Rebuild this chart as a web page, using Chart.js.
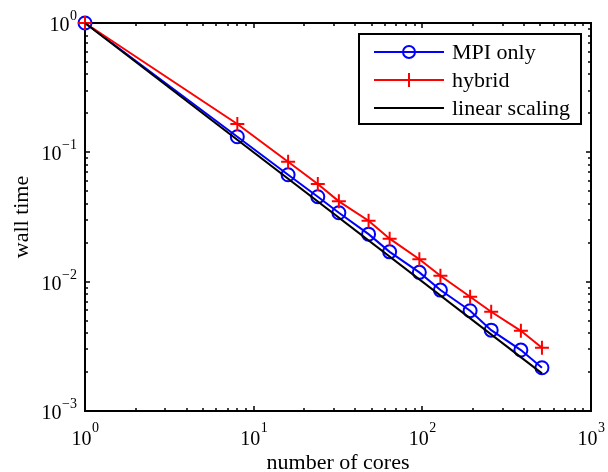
<!DOCTYPE html>
<html><head><meta charset="utf-8">
<script src="https://cdn.jsdelivr.net/npm/chart.js@4/dist/chart.umd.min.js"></script>
<style>html,body{margin:0;padding:0;background:#fff;}canvas{display:block;}</style>
</head><body>
<canvas id="c" width="608" height="472"></canvas>
<script>
const cores = [1, 8, 16, 24, 32, 48, 64, 96, 128, 192, 256, 384, 512];
const mpiOnly = [1, 0.132, 0.0671, 0.0454, 0.0341, 0.0233, 0.0170, 0.0118, 0.00861, 0.00596, 0.00422, 0.00296, 0.00216];
const hybrid = [1, 0.1656, 0.0846, 0.0569, 0.0418, 0.0296, 0.0215, 0.0149, 0.0111, 0.00764, 0.00585, 0.00417, 0.00308];
const linearCores = [1, 512];
const linearTime = [1, 0.001953];
const xTickValues = [1, 10, 100, 1000];
const xTickExponents = ['0', '1', '2', '3'];
const yTickValues = [0.001, 0.01, 0.1, 1];
const yTickExponents = ['\u22123', '\u22122', '\u22121', '0'];
const seriesNames = ['MPI only', 'hybrid', 'linear scaling'];
const xTitle = 'number of cores';
const yTitle = 'wall time';

const FONT = '"Liberation Serif", "Times New Roman", serif';
const pts = (xs, ys) => xs.map((x, i) => ({x: x, y: ys[i]}));

function minorValues(min, max) {
  const out = [];
  for (let d = min; d < max; d *= 10) {
    for (let k = 2; k <= 9; k++) out.push(d * k);
  }
  return out;
}

const deco = {
  id: 'deco',
  beforeDatasetsDraw(chart) {
    const ctx = chart.ctx, a = chart.chartArea;
    const xs = chart.scales.x, ys = chart.scales.y;
    ctx.save();
    ctx.strokeStyle = '#000';
    ctx.lineWidth = 2;
    ctx.strokeRect(a.left, a.top, a.right - a.left, a.bottom - a.top);
    ctx.lineWidth = 1.5;
    ctx.beginPath();
    const tick = (v, len, horiz) => {
      if (horiz) {
        const p = Math.round(xs.getPixelForValue(v));
        ctx.moveTo(p, a.bottom); ctx.lineTo(p, a.bottom - len);
        ctx.moveTo(p, a.top); ctx.lineTo(p, a.top + len);
      } else {
        const p = Math.round(ys.getPixelForValue(v));
        ctx.moveTo(a.left, p); ctx.lineTo(a.left + len, p);
        ctx.moveTo(a.right, p); ctx.lineTo(a.right - len, p);
      }
    };
    xTickValues.forEach(v => tick(v, 5, true));
    yTickValues.forEach(v => tick(v, 5, false));
    minorValues(xTickValues[0], xTickValues[xTickValues.length - 1]).forEach(v => tick(v, 3, true));
    minorValues(yTickValues[0], yTickValues[yTickValues.length - 1]).forEach(v => tick(v, 3, false));
    ctx.stroke();
    ctx.restore();
  },
  afterDraw(chart) {
    const ctx = chart.ctx, a = chart.chartArea;
    const xs = chart.scales.x, ys = chart.scales.y;
    ctx.save();
    ctx.fillStyle = '#000';
    ctx.textBaseline = 'alphabetic';
    const mainFont = '20px ' + FONT, expFont = '14px ' + FONT;
    // x tick labels
    xTickValues.forEach((v, i) => {
      const p = xs.getPixelForValue(v);
      ctx.font = mainFont; const w1 = ctx.measureText('10').width;
      ctx.font = expFont; const w2 = ctx.measureText(xTickExponents[i]).width;
      const x0 = p - (w1 + w2) / 2;
      ctx.font = mainFont; ctx.textAlign = 'left';
      ctx.fillText('10', x0, a.bottom + 33.5);
      ctx.font = expFont;
      ctx.fillText(xTickExponents[i], x0 + w1 + 0.5, a.bottom + 20.5);
    });
    // y tick labels
    yTickValues.forEach((v, i) => {
      const p = ys.getPixelForValue(v);
      ctx.font = expFont; const w2 = ctx.measureText(yTickExponents[i]).width;
      ctx.font = mainFont; const w1 = ctx.measureText('10').width;
      const xr = a.left - 8;
      ctx.textAlign = 'left';
      ctx.fillText('10', xr - w2 - w1 - 0.5, p + 8);
      ctx.font = expFont;
      ctx.fillText(yTickExponents[i], xr - w2, p - 3);
    });
    // axis titles
    ctx.font = '22px ' + FONT;
    ctx.textAlign = 'center';
    ctx.fillText(xTitle, (a.left + a.right) / 2, 468.5);
    ctx.save();
    ctx.translate(28, (a.top + a.bottom) / 2);
    ctx.rotate(-Math.PI / 2);
    ctx.fillText(yTitle, 0, 0);
    ctx.restore();
    // legend
    const lx = 359, ly = 34, lw = 222, lh = 90;
    ctx.fillStyle = '#fff';
    ctx.fillRect(lx, ly, lw, lh);
    ctx.strokeStyle = '#000';
    ctx.lineWidth = 2;
    ctx.strokeRect(lx, ly, lw, lh);
    const rows = [
      {name: seriesNames[0], color: '#0000ff', marker: 'circle'},
      {name: seriesNames[1], color: '#ff0000', marker: 'cross'},
      {name: seriesNames[2], color: '#000000', marker: null}
    ];
    rows.forEach((r, i) => {
      const y = ly + 18 + i * 28;
      ctx.strokeStyle = r.color;
      ctx.lineWidth = 2;
      ctx.beginPath(); ctx.moveTo(374, y); ctx.lineTo(444, y); ctx.stroke();
      if (r.marker === 'circle') {
        ctx.beginPath(); ctx.arc(409, y, 6, 0, Math.PI * 2); ctx.stroke();
      } else if (r.marker === 'cross') {
        ctx.beginPath();
        ctx.moveTo(409, y - 7); ctx.lineTo(409, y + 7);
        ctx.moveTo(402, y); ctx.lineTo(416, y);
        ctx.stroke();
      }
      ctx.fillStyle = '#000';
      ctx.font = '22px ' + FONT;
      ctx.textAlign = 'left';
      ctx.fillText(r.name, 452, y + 7);
    });
    ctx.restore();
  }
};

new Chart(document.getElementById('c'), {
  type: 'scatter',
  data: {
    datasets: [
      {label: seriesNames[2], data: pts(linearCores, linearTime), showLine: true,
       borderColor: '#000', borderWidth: 2, pointRadius: 0, order: 0, clip: false},
      {label: seriesNames[1], data: pts(cores, hybrid), showLine: true,
       borderColor: '#ff0000', borderWidth: 2, pointStyle: 'cross', pointRadius: 7,
       pointBorderColor: '#ff0000', pointBorderWidth: 2, order: 1, clip: false},
      {label: seriesNames[0], data: pts(cores, mpiOnly), showLine: true,
       borderColor: '#0000ff', borderWidth: 2, pointStyle: 'circle', pointRadius: 6.5,
       pointBorderColor: '#0000ff', pointBackgroundColor: 'rgba(0,0,0,0)', pointBorderWidth: 2,
       order: 2, clip: false}
    ]
  },
  options: {
    responsive: false,
    animation: false,
    devicePixelRatio: 1,
    layout: {padding: {left: 85, top: 23, right: 17, bottom: 61}},
    plugins: {legend: {display: false}, tooltip: {enabled: false}},
    scales: {
      x: {type: 'logarithmic', min: 1, max: 1000, display: false},
      y: {type: 'logarithmic', min: 0.001, max: 1, display: false}
    }
  },
  plugins: [deco]
});
</script>
</body></html>
